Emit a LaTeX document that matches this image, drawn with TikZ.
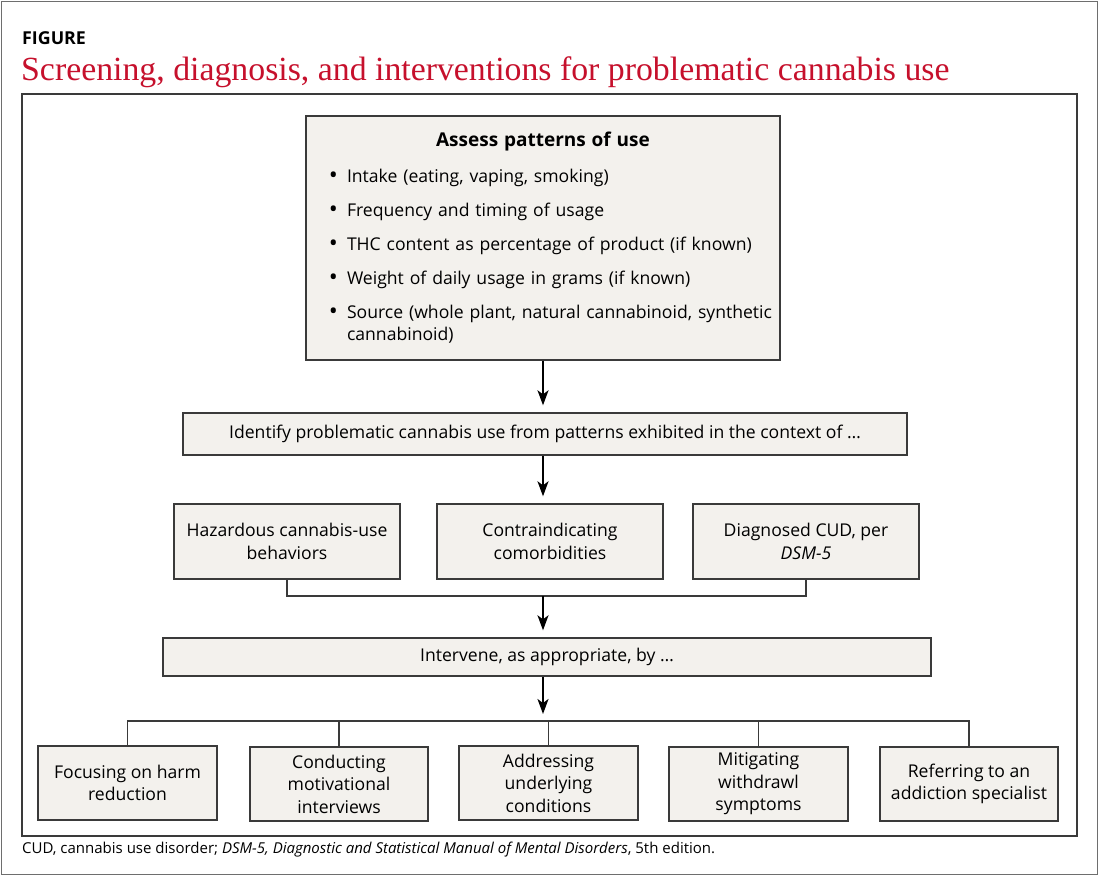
\documentclass[tikz,border=0pt]{standalone}
\usepackage{fontspec}
\setmainfont{Open Sans}
\newfontfamily\titlefont{Liberation Serif}
\usetikzlibrary{arrows.meta}
\definecolor{figred}{RGB}{198,16,44}
\definecolor{boxfill}{RGB}{243,241,237}
\definecolor{boxline}{RGB}{58,58,58}
\definecolor{framegray}{RGB}{110,110,110}

\tikzset{
  box/.style={draw=boxline, line width=1.4pt, fill=boxfill, inner sep=0pt,
    align=center, font=\fontsize{17.6}{22.5}\selectfont},
  arr/.style={-{Stealth[length=15pt,width=11pt,inset=4pt]}, line width=1.8pt,
    black, shorten >=7pt},
  link/.style={draw=boxline, line width=1.4pt},
}
\newcommand{\bigbullet}{\raisebox{-1.2pt}{\fontsize{24}{22}\selectfont\textbullet}}

\begin{document}
\begin{tikzpicture}[x=1pt, y=-1pt]
    \useasboundingbox (0,0) rectangle (1100,876);
    \draw [framegray, line width=1pt] (1,1) rectangle (1097,874);
    \node [anchor=base west, inner sep=0pt, font=\bfseries\fontsize{17.8}{20}\selectfont] (figlabel) at (22,44) {FIGURE};
    \node [anchor=base west, inner sep=0pt, text=figred, font=\titlefont\fontsize{33.8}{38}\selectfont] (figtitle) at (21,80) {Screening, diagnosis, and interventions for problematic cannabis use};
    \draw [boxline, line width=1.5pt] (22,94) rectangle (1077,836);

    \node [box, minimum width=474pt, minimum height=244pt, text width=460pt, align=left] (assess) at (543,238) {%
      \centering{\bfseries\fontsize{19}{22}\selectfont Assess patterns of use}\par
      \raggedright
      \begin{list}{\bigbullet}{\setlength{\leftmargin}{34pt}\setlength{\labelsep}{9pt}%
        \setlength{\labelwidth}{10pt}\setlength{\itemsep}{11.5pt}\setlength{\parsep}{0pt}%
        \setlength{\topsep}{13pt}\setlength{\partopsep}{0pt}}
      \item Intake (eating, vaping, smoking)
      \item Frequency and timing of usage
      \item THC content as percentage of product (if known)
      \item Weight of daily usage in grams (if known)
      \item Source (whole plant, natural cannabinoid, synthetic\newline cannabinoid)
      \end{list}};
    \node [box, minimum width=724pt, minimum height=42pt] (identify) at (545,434) {Identify problematic cannabis use from patterns exhibited in the context of …};
    \node [box, minimum width=226pt, minimum height=75pt] (hazard) at (287,541.5) {Hazardous cannabis-use\\behaviors};
    \node [box, minimum width=226pt, minimum height=75pt] (comorb) at (550,541.5) {Contraindicating\\comorbidities};
    \node [box, minimum width=226pt, minimum height=75pt] (cud) at (806,541.5) {Diagnosed CUD, per\\\textit{DSM-5}};
    \node [box, minimum width=768pt, minimum height=38pt] (intervene) at (547,657) {Intervene, as appropriate, by …};
    \node [box, minimum width=179pt, minimum height=74pt] (harm) at (127.5,783) {Focusing on harm\\reduction};
    \node [box, minimum width=178pt, minimum height=74pt] (motiv) at (339,784) {Conducting\\motivational\\interviews};
    \node [box, minimum width=179pt, minimum height=74pt] (underlying) at (548.5,783) {Addressing\\underlying\\conditions};
    \node [box, minimum width=179pt, minimum height=74pt] (withdraw) at (758.5,784) {Mitigating\\withdrawl\\symptoms};
    \node [box, minimum width=178pt, minimum height=74pt] (refer) at (969,784) {Referring to an\\addiction specialist};

    \coordinate (merge) at (543,596);
    \coordinate (split) at (543,721);
    \draw [arr] (assess.south) -- (assess.south |- identify.north);
    \draw [arr] (assess.south |- identify.south) -- (assess.south |- comorb.north);
    \draw [link] (hazard.south) |- (merge) -| (cud.south);
    \draw [arr] (merge) -- (merge |- intervene.north);
    \draw [arr] (merge |- intervene.south) -- (split);
    \draw [link] (harm.north) |- (split) -| (refer.north);
    \draw [link] (motiv.north) -- (motiv.north |- split);
    \draw [link] (underlying.north) -- (underlying.north |- split);
    \draw [link] (withdraw.north) -- (withdraw.north |- split);

    \node [anchor=base west, inner sep=0pt, font=\fontsize{15}{18}\selectfont] (footnote) at (22,853) {CUD, cannabis use disorder; \textit{DSM-5, Diagnostic and Statistical Manual of Mental Disorders}, 5th edition.};
\end{tikzpicture}
\end{document}
